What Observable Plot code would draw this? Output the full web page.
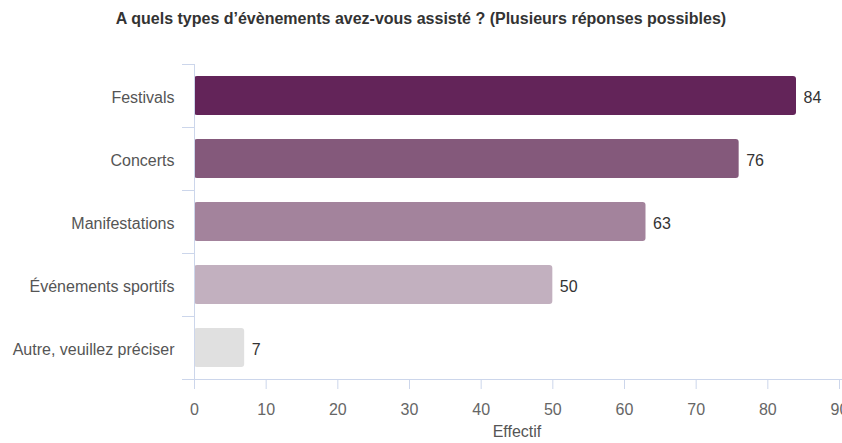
<!DOCTYPE html>
<html>
<head>
<meta charset="utf-8">
<script src="https://cdn.jsdelivr.net/npm/d3@7"></script>
<script src="https://cdn.jsdelivr.net/npm/@observablehq/plot@0.6"></script>
<style>
  html, body { margin: 0; padding: 0; background: #fff; }
  #title { height: 36px; line-height: 38px; text-align: center; font-family: "Liberation Sans", Arial, sans-serif; font-weight: bold; font-size: 16px; color: #333; white-space: nowrap; overflow: visible; }
  #chart svg { display: block; }
</style>
</head>
<body>
<div id="title"></div>
<div id="chart"></div>
<script>
const titleText = "A quels types d’évènements avez-vous assisté ? (Plusieurs réponses possibles)";
const categories = ["Festivals", "Concerts", "Manifestations", "Événements sportifs", "Autre, veuillez préciser"];
const values = [84, 76, 63, 50, 7];
const barColors = ["#632459", "#84597b", "#a3839c", "#c2b0bf", "#e0e0e0"];
const xTicks = [0, 10, 20, 30, 40, 50, 60, 70, 80, 90];
const xLabel = "Effectif";

document.getElementById("title").textContent = titleText;

const data = categories.map((c, i) => ({category: c, value: values[i]}));

const W = 842, H = 407;
const mL = 194, mR = 3, mT = 28, mB = 64;
const step = (H - mT - mB) / categories.length;
const axisColor = "#ccd6eb";
const font = "'Liberation Sans', Arial, sans-serif";
const fs = 16;

const chart = Plot.plot({
  width: W,
  height: H,
  marginLeft: mL,
  marginRight: mR,
  marginTop: mT,
  marginBottom: mB,
  style: {fontFamily: font, fontSize: fs + "px", background: "#fff", overflow: "visible"},
  x: {domain: [0, 90]},
  y: {domain: categories, paddingInner: 0.38, paddingOuter: 0.19},
  color: {domain: categories, range: barColors},
  marks: [
    Plot.barX(data, {x: "value", y: "category", fill: "category", rx: 3}),
    Plot.text(data, {x: "value", y: "category", text: d => String(d.value), dx: 7, dy: 2, textAnchor: "start", fill: "#333", fontSize: fs}),
    Plot.ruleX([0], {stroke: axisColor, strokeWidth: 1}),
    Plot.ruleY(categories, {y: d => d, dy: -step / 2, stroke: axisColor, insetLeft: -12, insetRight: W - mL - mR}),
    Plot.ruleY([categories[categories.length - 1]], {y: d => d, dy: step / 2, stroke: axisColor, insetLeft: -12, insetRight: -mR}),
    Plot.axisX({ticks: xTicks, tickSize: 10, tickPadding: 14, stroke: axisColor, fill: "#666", fontSize: fs, label: null}),
    Plot.axisY({tickSize: 0, tickPadding: 20, dy: 1.5, fill: "#555", fontSize: fs, label: null}),
    Plot.text([xLabel], {frameAnchor: "bottom", dy: 57, fill: "#555", fontSize: fs})
  ]
});
document.getElementById("chart").appendChild(chart);
</script>
</body>
</html>
